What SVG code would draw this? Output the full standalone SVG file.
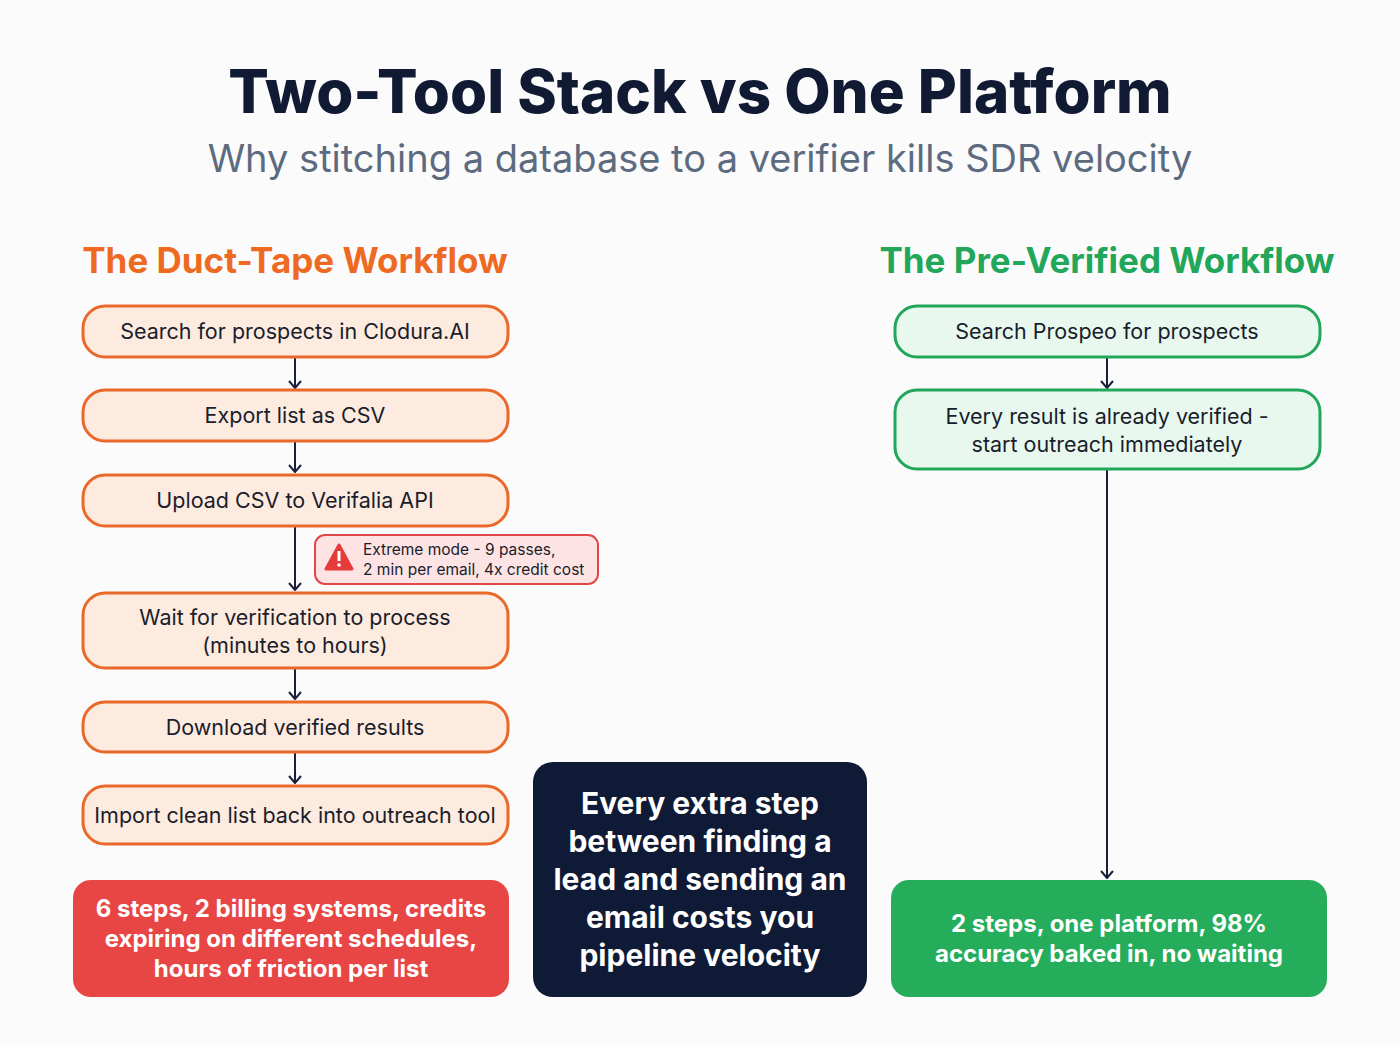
<svg xmlns="http://www.w3.org/2000/svg" width="1400" height="1045" viewBox="0 0 1400 1045">
<defs>
<style>
text{font-family:Inter,"Noto Sans",sans-serif}
.o{fill:#fdebdf;stroke:#e8692a;stroke-width:3}
.g{fill:#e8f8ee;stroke:#22a65a;stroke-width:3}
.t{font-size:21.5px;fill:#1a1d2b;text-anchor:middle}
.c{stroke:#1a1f3a;stroke-width:2;fill:none}
.w{fill:#fff;font-weight:700;text-anchor:middle;font-size:24px}
.m{font-size:30px}
</style>
<marker id="a" viewBox="0 0 14 14" refX="13" refY="7" markerWidth="14" markerHeight="14" markerUnits="userSpaceOnUse" orient="auto"><path d="M6 1 L13 7 L6 13" fill="none" stroke="#1a1f3a" stroke-width="2"/></marker>
</defs>
<rect width="1400" height="1045" fill="#fbfbfb"/>
<text x="700" y="113" font-size="60" font-weight="800" fill="#111a33" text-anchor="middle">Two-Tool Stack vs One Platform</text>
<text x="700" y="172" font-size="38" fill="#5d6b80" text-anchor="middle">Why stitching a database to a verifier kills SDR velocity</text>
<text x="295" y="273" font-size="35" font-weight="700" fill="#ee6a22" text-anchor="middle">The Duct-Tape Workflow</text>
<text x="1107" y="273" font-size="35" font-weight="700" fill="#22a65a" text-anchor="middle">The Pre-Verified Workflow</text>
<g id="connectors">
<path class="c" d="M295 358V388" marker-end="url(#a)"/>
<path class="c" d="M295 442V472" marker-end="url(#a)"/>
<path class="c" d="M295 527V590" marker-end="url(#a)"/>
<path class="c" d="M295 669V699" marker-end="url(#a)"/>
<path class="c" d="M295 753V783" marker-end="url(#a)"/>
<path class="c" d="M1107 358V388" marker-end="url(#a)"/>
<path class="c" d="M1107 470V878" marker-end="url(#a)"/>
</g>
<g id="l1"><rect class="o" x="83" y="306" width="425" height="51" rx="22"/><text class="t" x="295" y="339">Search for prospects in Clodura.AI</text></g>
<g id="l2"><rect class="o" x="83" y="390" width="425" height="51" rx="22"/><text class="t" x="295" y="423">Export list as CSV</text></g>
<g id="l3"><rect class="o" x="83" y="475" width="425" height="51" rx="22"/><text class="t" x="295" y="508">Upload CSV to Verifalia API</text></g>
<g id="warn"><rect x="315" y="535" width="283" height="49" rx="10" fill="#fde3e3" stroke="#e04848" stroke-width="2"/>
<path d="M339 545 L352 569 L326 569 Z" fill="#e53b3b" stroke="#e53b3b" stroke-width="3" stroke-linejoin="round"/>
<rect x="337.5" y="551" width="3" height="10" fill="#fff"/><circle cx="339" cy="565" r="1.8" fill="#fff"/>
<text x="363" y="555" font-size="15.5" fill="#1a1d2b">Extreme mode - 9 passes,</text>
<text x="363" y="575" font-size="15.5" fill="#1a1d2b">2 min per email, 4x credit cost</text></g>
<g id="l4"><rect class="o" x="83" y="593" width="425" height="75" rx="22"/><text class="t" x="295" y="625">Wait for verification to process</text><text class="t" x="295" y="653">(minutes to hours)</text></g>
<g id="l5"><rect class="o" x="83" y="702" width="425" height="50" rx="22"/><text class="t" x="295" y="735">Download verified results</text></g>
<g id="l6"><rect class="o" x="83" y="786" width="425" height="58" rx="22"/><text class="t" x="295" y="823">Import clean list back into outreach tool</text></g>
<g id="r1"><rect class="g" x="895" y="306" width="425" height="51" rx="22"/><text class="t" x="1107" y="339">Search Prospeo for prospects</text></g>
<g id="r2"><rect class="g" x="895" y="390" width="425" height="79" rx="22"/><text class="t" x="1107" y="424">Every result is already verified -</text><text class="t" x="1107" y="452">start outreach immediately</text></g>
<g id="sumL"><rect x="73" y="880" width="436" height="117" rx="18" fill="#e84545"/>
<text class="w" x="291" y="917">6 steps, 2 billing systems, credits</text><text class="w" x="291" y="947">expiring on different schedules,</text><text class="w" x="291" y="977">hours of friction per list</text></g>
<g id="mid"><rect x="533" y="762" width="334" height="235" rx="20" fill="#0f1a36"/>
<text class="w m" x="700" y="814">Every extra step</text><text class="w m" x="700" y="852">between finding a</text><text class="w m" x="700" y="890">lead and sending an</text><text class="w m" x="700" y="928">email costs you</text><text class="w m" x="700" y="966">pipeline velocity</text></g>
<g id="sumR"><rect x="891" y="880" width="436" height="117" rx="18" fill="#25ad5c"/>
<text class="w" x="1109" y="932">2 steps, one platform, 98%</text><text class="w" x="1109" y="962">accuracy baked in, no waiting</text></g>
</svg>
